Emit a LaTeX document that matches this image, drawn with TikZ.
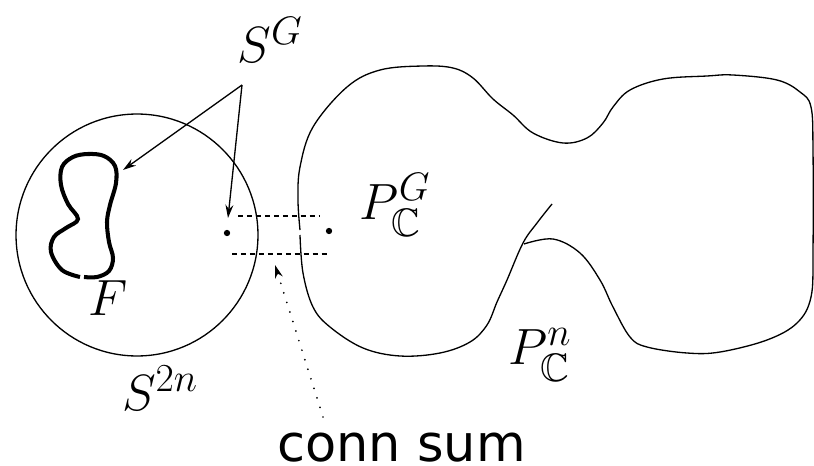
\RequirePackage{fix-cm}
\documentclass[tikz,border=0pt]{standalone}
\usepackage{amssymb}
\usepackage{fontspec}
\newfontfamily\sumfont{DejaVu Sans}
\usetikzlibrary{arrows.meta}
\renewcommand\defaultscriptratio{.78}
\begin{document}
\begin{tikzpicture}[
        x=0.02cm, y=-0.02cm,
        thinline/.style={line width=0.75pt},
        surface/.style={line width=2.3pt, line cap=butt},
        pt/.style={circle, fill, inner sep=0pt, minimum size=3.6pt},
        lbl/.style={inner sep=0pt, font=\fontsize{29}{34}\selectfont},
        glue/.style={line width=0.75pt, dash pattern=on 2.8pt off 2.3pt},
        pointer/.style={line width=0.75pt, -{Stealth[length=7.5pt, width=4.5pt]}},
        hint/.style={line width=1.1pt, line cap=round, dash pattern=on 0pt off 5.7pt,
            -{Stealth[length=7.5pt, width=4.5pt, line width=0.75pt]}},
    ]
    \useasboundingbox (0,0) rectangle (814,466);

    % the sphere and the surface F
    \node[draw, circle, thinline, minimum size=4.84cm, inner sep=0pt](sphere) at (137,235){};
    \draw[surface] plot[smooth, tension=0.6] coordinates{
        (80,277) (62,270) (51,252) (54,237) (66,228) (78,219) (68,204) (61,185)
        (62,167) (73,157) (88,154) (104,156) (115,166) (116,183) (110,205)
        (107,222) (109,242) (113,258) (109,271) (97,277) (84,277)};

    % the projective space
    \draw[thinline] plot[smooth, tension=0.6] coordinates{
        (300,235) (303,273) (313,307) (330,327) (363,348) (400,356) (440,353)
        (470,342) (487,325) (497,302) (507,280) (523,243) (537,223) (552,204)};
    \draw[thinline] plot[smooth, tension=0.6] coordinates{
        (524,244) (553,239) (580,253) (600,280) (613,307) (630,337) (647,347)
        (687,353) (720,352) (767,340) (797,323) (811,297) (813,250) (813,150)
        (811,107) (800,92) (777,80) (733,75) (707,76) (663,79) (630,90)
        (613,107) (603,123) (587,138) (563,143) (533,133) (513,115) (493,99)
        (473,78) (453,68) (423,66) (380,70) (347,87) (313,127) (300,167)
        (298,200) (300,230)};

    % glued points
    \node[pt](ptS) at (227,233){};
    \node[pt](ptP) at (329,231){};
    \coordinate (gu1) at (238,216);
    \coordinate (gu2) at (320,216);
    \coordinate (gd1) at (232,254);
    \coordinate (gd2) at (327,254);
    \draw[glue] (gu1) -- (gu2);
    \draw[glue] (gd1) -- (gd2);

    % labels
    \node[lbl](SG) at (270,40){$S^G$};
    \node[lbl](F) at (108,298){$F$};
    \node[lbl](S2n) at (160,388){$S^{2n}$};
    \node[lbl](PG) at (395,205){$P^G_{\mathbb{C}}$};
    \node[lbl](Pn) at (540,355){$P^n_{\mathbb{C}}$};
    \node[inner sep=0pt, anchor=base west, font=\sumfont\fontsize{29}{34}\selectfont](sum) at (277,461){conn sum};

    % pointers
    \coordinate (apex) at (242,85);
    \coordinate (tipF) at (123,170);
    \coordinate (tipS) at (228,218);
    \draw[pointer] (apex) -- (tipF);
    \draw[pointer] (apex) -- (tipS);
    \coordinate (sumfoot) at (323,417);
    \coordinate (sumtip) at (275,265);
    \draw[hint] (sumfoot) -- (sumtip);

\end{tikzpicture}
\end{document}
